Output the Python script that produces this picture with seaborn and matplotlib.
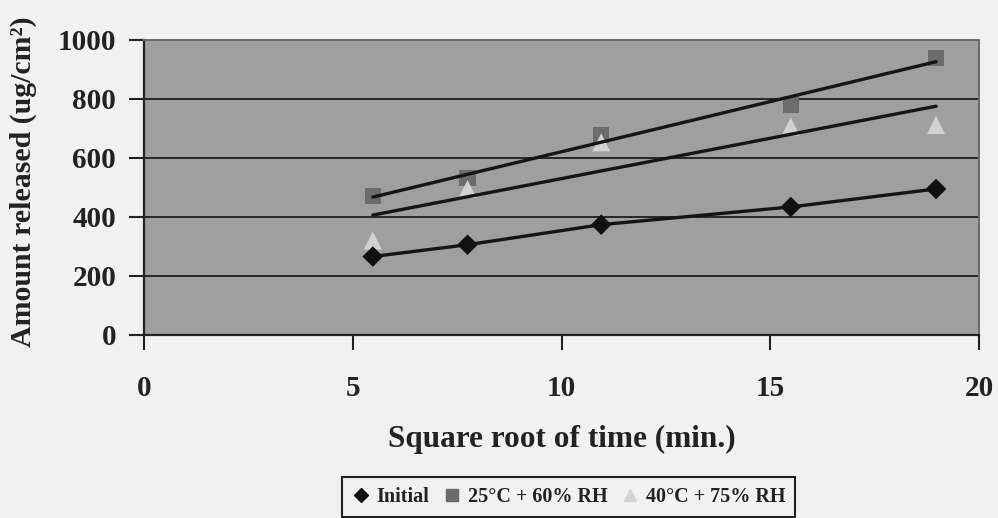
import numpy as np
import pandas as pd
import matplotlib
matplotlib.use("Agg")
import matplotlib.pyplot as plt
from matplotlib.lines import Line2D
import seaborn as sns

# ---- data ----
sqrt_time = [5.48, 7.75, 10.95, 15.49, 18.97]
initial = [266, 306, 374, 434, 495]
rh60 = [471, 532, 677, 781, 939]
rh75 = [320, 495, 653, 707, 712]
series_labels = ["Initial", "25°C + 60% RH", "40°C + 75% RH"]
x_ticks = [0, 5, 10, 15, 20]
y_ticks = [0, 200, 400, 600, 800, 1000]

df = pd.DataFrame({"x": sqrt_time, "initial": initial, "rh60": rh60, "rh75": rh75})

sns.set_theme(style="white")
plt.rcParams["font.family"] = ["Liberation Serif", "DejaVu Serif"]
plt.rcParams["font.weight"] = "bold"

fig = plt.figure(figsize=(9.98, 5.18), dpi=100, facecolor="#f1f1f1")
ax = fig.add_axes([0.1443, 0.3533, 0.8367, 0.5695])
ax.set_facecolor("#9f9f9f")

# gridlines
for yv in y_ticks[1:-1]:
    ax.axhline(yv, color="#1e1e1e", lw=1.3, zorder=1)

# markers
sns.scatterplot(data=df, x="x", y="rh60", marker="s", s=140, color="#6c6c6c",
                edgecolor="none", ax=ax, zorder=3)
sns.scatterplot(data=df, x="x", y="rh75", marker="^", s=170, color="#d2d2d2",
                edgecolor="none", ax=ax, zorder=3)
# trendlines
sns.regplot(data=df, x="x", y="rh60", scatter=False, ci=None, truncate=True,
            line_kws=dict(color="#151515", lw=2.4, zorder=4), ax=ax)
sns.regplot(data=df, x="x", y="rh75", scatter=False, ci=None, truncate=True,
            line_kws=dict(color="#151515", lw=2.4, zorder=4), ax=ax)
sns.lineplot(data=df, x="x", y="initial", color="#151515", lw=2.4, ax=ax, zorder=4)
sns.scatterplot(data=df, x="x", y="initial", marker="D", s=110, color="#111111",
                edgecolor="none", ax=ax, zorder=5)

ax.set_xlim(0, 20)
ax.set_ylim(0, 1000)
ax.set_xticks(x_ticks)
ax.set_yticks(y_ticks)
ax.tick_params(axis="both", which="major", direction="out", length=11, width=1.5,
               color="#222222", labelsize=21, left=True, bottom=True)
ax.tick_params(axis="x", pad=18)
ax.tick_params(axis="y", pad=9)
for lab in ax.get_xticklabels() + ax.get_yticklabels():
    lab.set_fontweight("bold")
    lab.set_color("#222222")

for side in ["left", "bottom"]:
    ax.spines[side].set_color("#222222")
    ax.spines[side].set_linewidth(1.6)
for side in ["top", "right"]:
    ax.spines[side].set_color("#6a6a6a")
    ax.spines[side].set_linewidth(1.4)

ax.set_xlabel("Square root of time (min.)", fontsize=22.5, fontweight="bold",
              color="#222222", labelpad=16)
ax.set_ylabel("Amount released (ug/cm²)", fontsize=21.5, fontweight="bold",
              color="#222222")
ax.get_yaxis().set_label_coords(-0.128, 0.52)

handles = [
    Line2D([], [], marker="D", color="#111111", ls="none", markersize=7),
    Line2D([], [], marker="s", color="#6c6c6c", ls="none", markersize=9),
    Line2D([], [], marker="^", color="#d2d2d2", ls="none", markersize=9),
]
leg = fig.legend(handles, series_labels, loc="upper center", ncol=3,
                 bbox_to_anchor=(0.570, 0.098), frameon=True, fancybox=False,
                 edgecolor="#222222", facecolor="#f1f1f1", framealpha=1,
                 prop=dict(family="Liberation Serif", weight="bold", size=14.5),
                 handlelength=0.8, handletextpad=0.4, columnspacing=0.7,
                 borderpad=0.5)
leg.get_frame().set_linewidth(1.5)
for t in leg.get_texts():
    t.set_color("#222222")

fig.savefig("out.png", dpi=100, facecolor=fig.get_facecolor())
